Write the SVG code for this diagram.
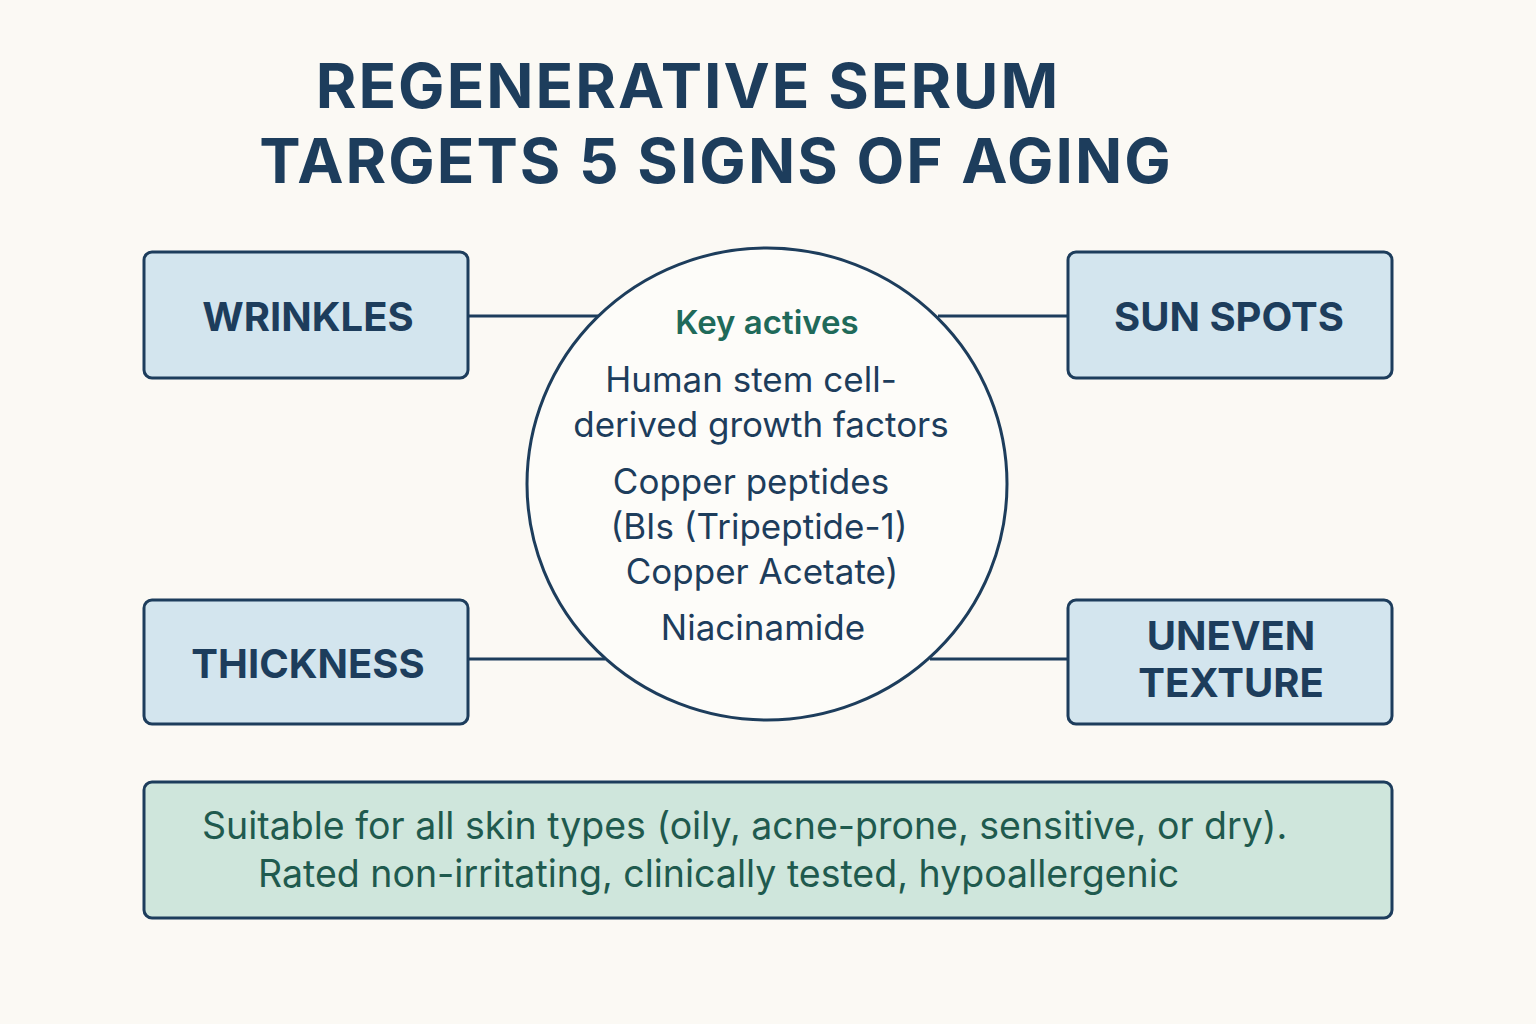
<svg xmlns="http://www.w3.org/2000/svg" width="1536" height="1024" viewBox="0 0 1536 1024">
<style>
.t{font-family:Inter,"Noto Sans",sans-serif;font-weight:700;fill:#1d3d5c;letter-spacing:2px}
.box{fill:#d3e5ee;stroke:#1d3d5c;stroke-width:3}
.lbl{font-family:Inter,"Noto Sans",sans-serif;font-weight:700;font-size:40px;fill:#1d3d5c;text-anchor:middle}
.c{font-family:Inter,"Noto Sans",sans-serif;font-size:35px;fill:#1d3d5c;text-anchor:middle}
.g{font-family:Inter,"Noto Sans",sans-serif;font-size:37.5px;fill:#1f5a4e}
.ln{stroke:#1d3d5c;stroke-width:3;fill:none}
</style>
<rect width="1536" height="1024" fill="#fbf9f4"/>
<text class="t" font-size="62" x="688" y="108" text-anchor="middle">REGENERATIVE SERUM</text>
<text class="t" font-size="62" x="716" y="183" text-anchor="middle">TARGETS 5 SIGNS OF AGING</text>
<g id="connectors">
<line class="ln" x1="468" y1="316" x2="598" y2="316"/>
<line class="ln" x1="938" y1="316" x2="1068" y2="316"/>
<line class="ln" x1="468" y1="659" x2="605" y2="659"/>
<line class="ln" x1="930" y1="659" x2="1068" y2="659"/>
</g>
<g id="wrinkles"><rect class="box" x="144" y="252" width="324" height="126" rx="8"/><text class="lbl" x="308" y="331">WRINKLES</text></g>
<g id="sunspots"><rect class="box" x="1068" y="252" width="324" height="126" rx="8"/><text class="lbl" x="1229" y="331">SUN SPOTS</text></g>
<g id="thickness"><rect class="box" x="144" y="600" width="324" height="124" rx="8"/><text class="lbl" x="308" y="678">THICKNESS</text></g>
<g id="uneven"><rect class="box" x="1068" y="600" width="324" height="124" rx="8"/><text class="lbl" x="1231" y="650">UNEVEN</text><text class="lbl" x="1231" y="697">TEXTURE</text></g>
<g id="center"><ellipse cx="767" cy="484" rx="240" ry="236" fill="#fdfcf9" stroke="#1d3d5c" stroke-width="3"/>
<text x="767" y="334" text-anchor="middle" font-family="Inter,'Noto Sans',sans-serif" font-weight="600" font-size="33" fill="#1f6a5a">Key actives</text>
<text class="c" x="751" y="392">Human stem cell-</text>
<text class="c" x="761" y="437">derived growth factors</text>
<text class="c" x="751" y="494">Copper peptides</text>
<text class="c" x="759" y="539">(BIs (Tripeptide-1)</text>
<text class="c" x="762" y="584">Copper Acetate)</text>
<text class="c" x="763" y="640">Niacinamide</text></g>
<g id="note"><rect x="144" y="782" width="1248" height="136" rx="8" fill="#cfe6dc" stroke="#1d3d5c" stroke-width="3"/>
<text class="g" x="202" y="839">Suitable for all skin types (oily, acne-prone, sensitive, or dry).</text>
<text class="g" x="258" y="887">Rated non-irritating, clinically tested, hypoallergenic</text></g>
</svg>
